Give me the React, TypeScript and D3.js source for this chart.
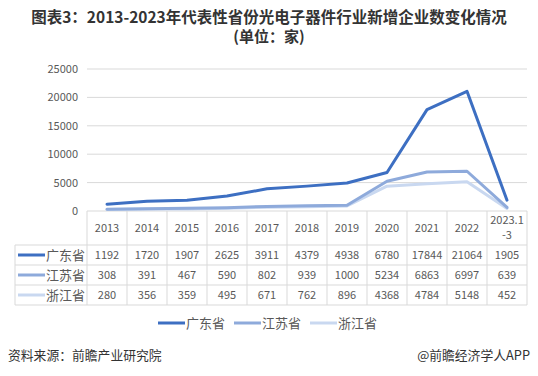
import React from "react";
import * as d3 from "d3";

const categories = ["2013","2014","2015","2016","2017","2018","2019","2020","2021","2022","2023.1-3"];
const seriesNames = ["广东省","江苏省","浙江省"];
const guangdong = [1192,1720,1907,2625,3911,4379,4938,6780,17844,21064,1905];
const jiangsu = [308,391,467,590,802,939,1000,5234,6863,6997,639];
const zhejiang = [280,356,359,495,671,762,896,4368,4784,5148,452];
const yTicks = [0,5000,10000,15000,20000,25000];
const colors = ["#3D6FC2","#8EAADB","#C9D8F0"];

const W = 538, H = 376;
const FONT = "'Noto Sans CJK SC', 'Noto Sans', sans-serif";

export default function App() {
  const series = [guangdong, jiangsu, zhejiang];
  const x = d3.scaleBand<string>().domain(categories).range([87, 527]);
  const y = d3.scaleLinear().domain([0, 25000]).range([211, 69]);
  const line = d3.line<number>()
    .x((_, i) => (x(categories[i]) as number) + x.bandwidth() / 2)
    .y((d) => y(d));
  const tableLeft = 15;
  const headerTop = 211, headerBot = 245, rowH = 20;
  const gray = "#595959";
  const border = "#D9D9D9";
  return (
    <svg width={W} height={H} style={{ display: "block", position: "absolute", left: 0, top: 0, background: "#fff" }} fontFamily={FONT}>
      <text x={269} y={23} textAnchor="middle" fontSize={15.5} fontWeight="bold" fill="#333">图表3：2013-2023年代表性省份光电子器件行业新增企业数变化情况</text>
      <text x={269} y={42} textAnchor="middle" fontSize={15} fontWeight="bold" fill="#333">(单位：家)</text>
      {yTicks.map((t) => (
        <g key={t}>
          {t > 0 && <line x1={87} x2={527} y1={y(t)} y2={y(t)} stroke={border} strokeWidth={1} />}
          <text x={78} y={y(t) + 4} textAnchor="end" fontSize={11} fill={gray}>{t}</text>
        </g>
      ))}
      {/* table grid */}
      <line x1={87} x2={527} y1={headerTop} y2={headerTop} stroke={border} />
      {categories.map((c) => (
        <line key={"v" + c} x1={x(c) as number} x2={x(c) as number} y1={headerTop} y2={headerBot + rowH * 3} stroke={border} />
      ))}
      <line x1={527} x2={527} y1={headerTop} y2={headerBot + rowH * 3} stroke={border} />
      <line x1={tableLeft} x2={tableLeft} y1={headerBot} y2={headerBot + rowH * 3} stroke={border} />
      {[0, 1, 2, 3].map((r) => (
        <line key={"h" + r} x1={tableLeft} x2={527} y1={headerBot + r * rowH} y2={headerBot + r * rowH} stroke={border} />
      ))}
      {categories.map((c) => {
        const cx = (x(c) as number) + x.bandwidth() / 2;
        if (c === "2023.1-3") {
          return (
            <g key={"c" + c}>
              <text x={cx} y={224} textAnchor="middle" fontSize={11} fill={gray}>2023.1</text>
              <text x={cx} y={239} textAnchor="middle" fontSize={11} fill={gray}>-3</text>
            </g>
          );
        }
        return <text key={"c" + c} x={cx} y={232} textAnchor="middle" fontSize={11} fill={gray}>{c}</text>;
      })}
      {series.map((s, si) => (
        <g key={"row" + si}>
          <line x1={18} x2={45} y1={headerBot + si * rowH + 10} y2={headerBot + si * rowH + 10} stroke={colors[si]} strokeWidth={3} />
          <text x={46} y={headerBot + si * rowH + 15} fontSize={13} fill={gray}>{seriesNames[si]}</text>
          {s.map((v, i) => (
            <text key={i} x={(x(categories[i]) as number) + x.bandwidth() / 2} y={headerBot + si * rowH + 14} textAnchor="middle" fontSize={11} fill={gray}>{v}</text>
          ))}
        </g>
      ))}
      {/* lines, draw lightest first */}
      {[2, 1, 0].map((si) => (
        <path key={"p" + si} d={line(series[si]) as string} fill="none" stroke={colors[si]} strokeWidth={3} strokeLinejoin="round" strokeLinecap="round" />
      ))}
      {/* legend */}
      {seriesNames.map((n, i) => {
        const lx = 158 + i * 76;
        return (
          <g key={"lg" + n}>
            <line x1={lx} x2={lx + 27} y1={323} y2={323} stroke={colors[i]} strokeWidth={3} />
            <text x={lx + 28} y={328} fontSize={13} fill={gray}>{n}</text>
          </g>
        );
      })}
      <text x={8} y={360} fontSize={12.8} fill="#333">资料来源：前瞻产业研究院</text>
      <text x={530} y={360} textAnchor="end" fontSize={12.8} fill="#333">@前瞻经济学人APP</text>
    </svg>
  );
}
